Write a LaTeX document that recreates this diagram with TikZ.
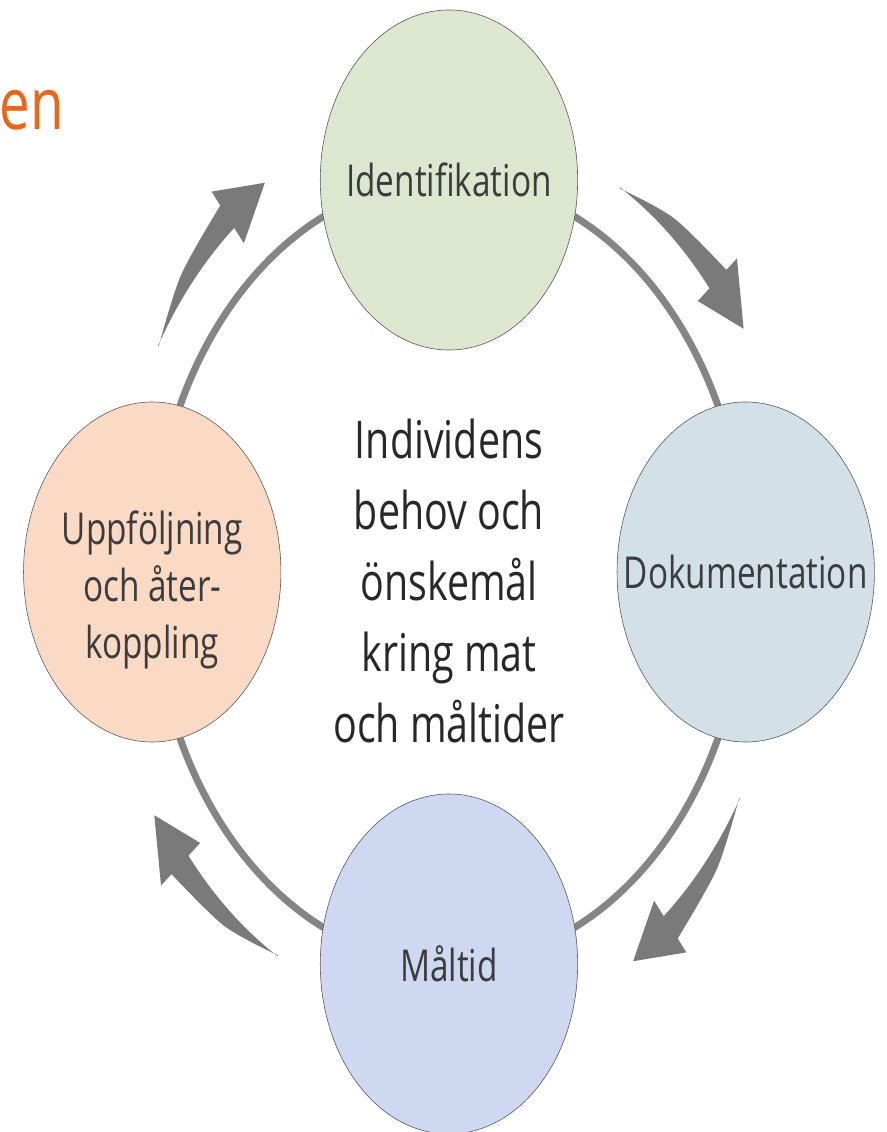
\documentclass[tikz,border=0pt]{standalone}
\usepackage{fontspec}
\setmainfont{Open Sans}
\usetikzlibrary{backgrounds}
\definecolor{identgreen}{RGB}{221,231,207}
\definecolor{dokublue}{RGB}{211,224,232}
\definecolor{maltidblue}{RGB}{206,216,240}
\definecolor{uppfpeach}{RGB}{250,218,196}
\definecolor{ringgray}{RGB}{133,133,133}
\definecolor{arrowgray}{RGB}{122,122,122}
\definecolor{edgegray}{RGB}{90,90,90}
\definecolor{titleorange}{RGB}{235,102,22}
\definecolor{labelgray}{RGB}{60,60,60}
\definecolor{centergray}{RGB}{40,40,40}

\begin{document}
\begin{tikzpicture}[x=1pt, y=1pt, xscale=0.757, transform shape]
		\tikzstyle{every node}+=[inner sep=0pt]
		\tikzstyle{stagetext}=[text=labelgray, font=\fontsize{44}{57}\selectfont, align=center]
		\tikzstyle{stage}=[circle, minimum size=340pt, draw=edgegray, line width=0.6pt, stagetext]
		\tikzstyle{ringline}=[ringgray, line width=7pt]
		\tikzstyle{cyclearrow}=[arrowgray]
		\useasboundingbox (-593.1,572) rectangle (577.3,-560);
		\node [anchor=base west, text=titleorange, font=\fontsize{72}{72}\selectfont] (title) at (-594,442) {en};
		\node [stage, fill=identgreen] (ident) at (0,392) {Identifikation};
		\node [stage, fill=dokublue] (doku) at (392,0) {Dokumentation};
		\node [stage, fill=maltidblue] (maltid) at (0,-392) {Måltid};
		\node [stage, fill=uppfpeach, label={[stagetext, yshift=-18]center:{Uppföljning\\och åter-\\koppling}}] (uppf) at (-392,0) {};
		\node [text=centergray, align=center, font=\fontsize{52}{71}\selectfont] (focus) at (0,-9) {Individens\\behov och\\önskemål\\kring mat\\och måltider};
		\begin{scope}[on background layer]
		\draw [ringline] (ident.center) to[bend left=45] (doku.center);
		\draw [ringline] (doku.center) to[bend left=45] (maltid.center);
		\draw [ringline] (maltid.center) to[bend left=45] (uppf.center);
		\draw [ringline] (uppf.center) to[bend left=45] (ident.center);
		\end{scope}
		% curved arrows outside the ring, clockwise
		\fill [cyclearrow, rotate=0] (149.5:445) -- plot[smooth] coordinates {(149.5:445) (140:462) (129.5:475)} -- (129.5:493) -- (122:459) -- (129.5:426) -- (129.5:446) arc[start angle=129.5, end angle=149.5, radius=446] -- cycle;
		\fill [cyclearrow, rotate=-90] (149.5:445) -- plot[smooth] coordinates {(149.5:445) (140:462) (129.5:475)} -- (129.5:493) -- (122:459) -- (129.5:426) -- (129.5:446) arc[start angle=129.5, end angle=149.5, radius=446] -- cycle;
		\fill [cyclearrow, rotate=180] (149.5:445) -- plot[smooth] coordinates {(149.5:445) (140:462) (129.5:475)} -- (129.5:493) -- (122:459) -- (129.5:426) -- (129.5:446) arc[start angle=129.5, end angle=149.5, radius=446] -- cycle;
		\fill [cyclearrow, rotate=90] (149.5:445) -- plot[smooth] coordinates {(149.5:445) (140:462) (129.5:475)} -- (129.5:493) -- (122:459) -- (129.5:426) -- (129.5:446) arc[start angle=129.5, end angle=149.5, radius=446] -- cycle;
\end{tikzpicture}
\end{document}
